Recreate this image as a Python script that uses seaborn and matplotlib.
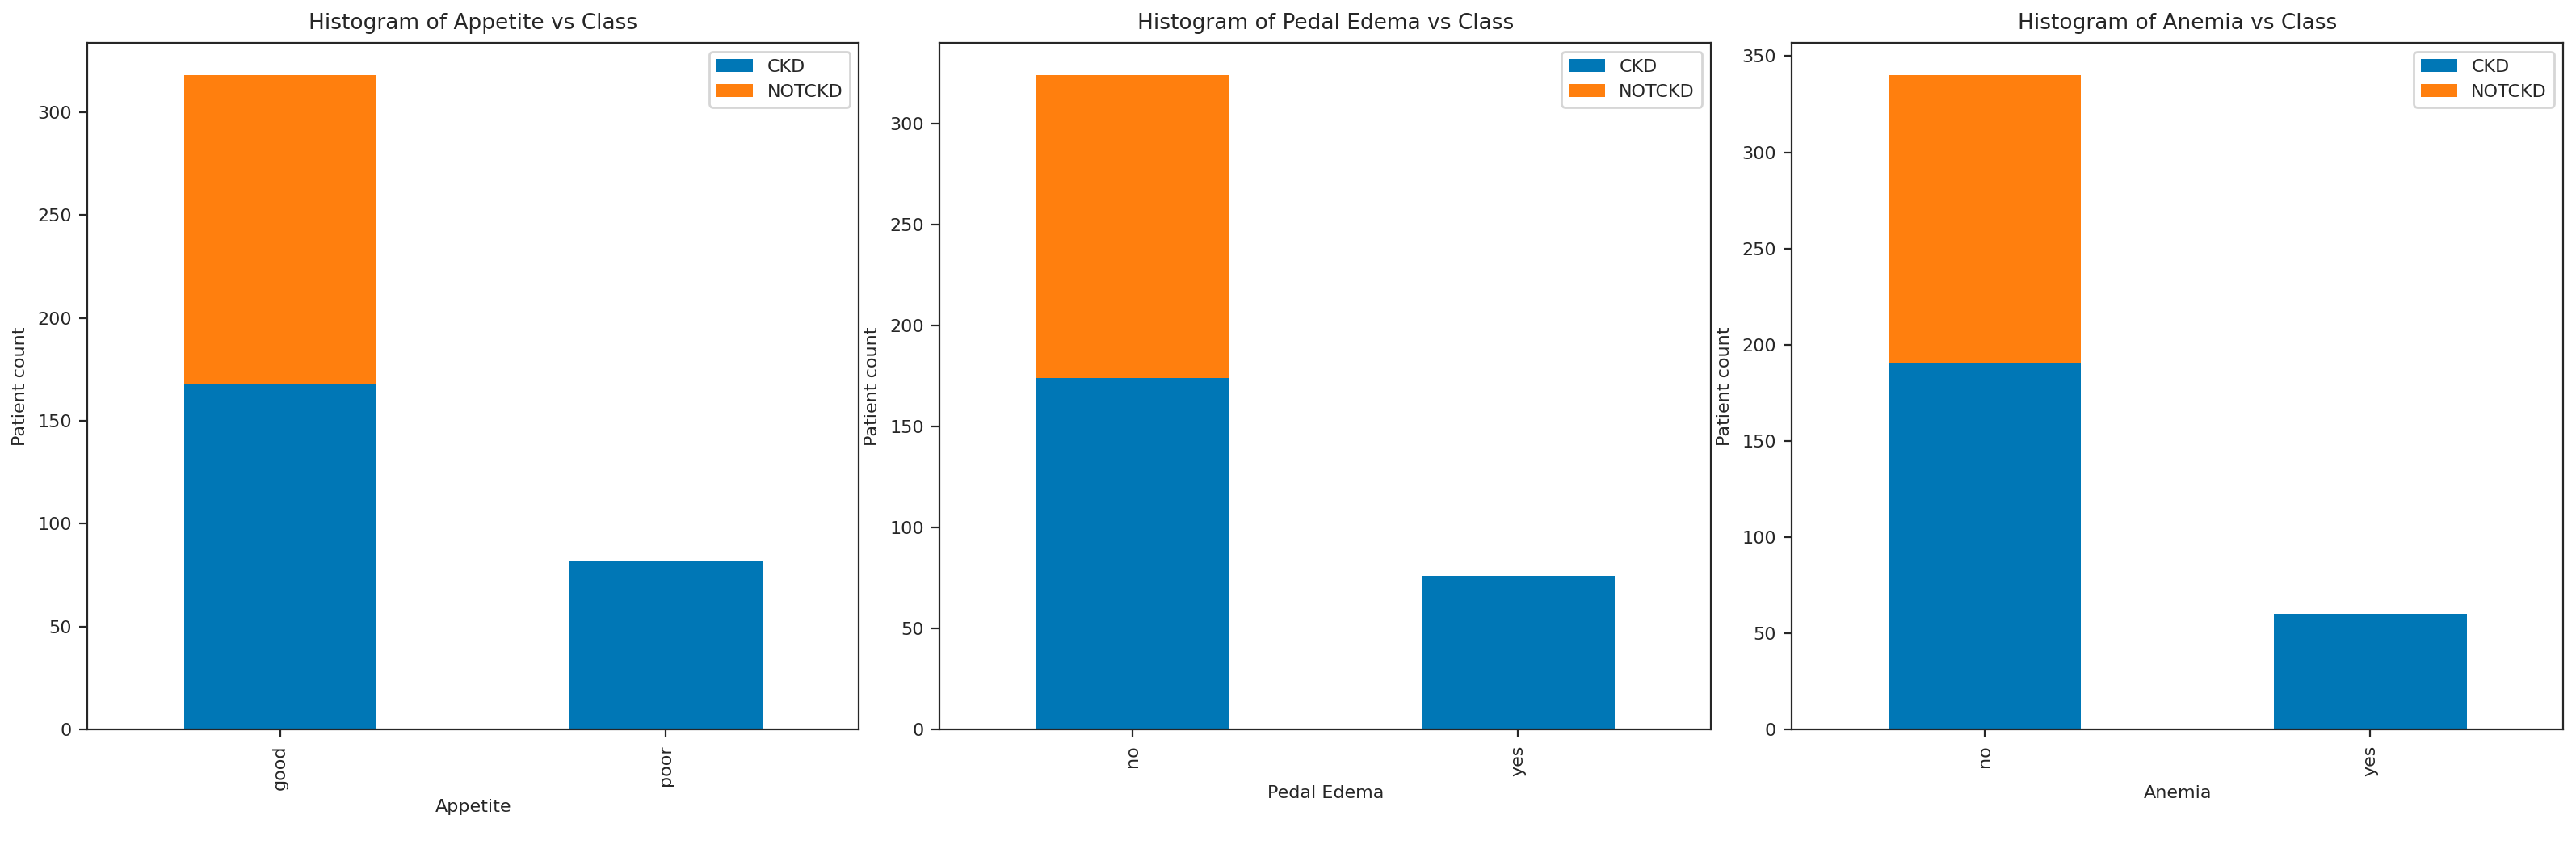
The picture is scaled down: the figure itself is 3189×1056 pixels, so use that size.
import matplotlib
matplotlib.use("Agg")
import matplotlib.pyplot as plt
import seaborn as sns
import pandas as pd
import numpy as np

appetite_cats = ["good", "poor"]
appetite_ckd = [168, 82]
appetite_notckd = [150, 0]

edema_cats = ["no", "yes"]
edema_ckd = [174, 76]
edema_notckd = [150, 0]

anemia_cats = ["no", "yes"]
anemia_ckd = [190, 60]
anemia_notckd = [150, 0]

panels = [
    ("Appetite", appetite_cats, appetite_ckd, appetite_notckd, [0, 50, 100, 150, 200, 250, 300]),
    ("Pedal Edema", edema_cats, edema_ckd, edema_notckd, [0, 50, 100, 150, 200, 250, 300]),
    ("Anemia", anemia_cats, anemia_ckd, anemia_notckd, [0, 50, 100, 150, 200, 250, 300, 350]),
]

sns.set_style("ticks")
plt.rcParams["font.family"] = ["DejaVu Sans"]
blue = "#0077b6"
orange = "#ff7f0e"

fig, axes = plt.subplots(1, 3, figsize=(15.945, 5.28), dpi=200)
for ax, (name, cats, ckd, notckd, ticks) in zip(axes, panels):
    df = pd.DataFrame({"cat": cats, "CKD": ckd, "NOTCKD": notckd})
    df["total"] = df["CKD"] + df["NOTCKD"]
    sns.barplot(data=df, x="cat", y="total", color=orange, width=0.5, ax=ax,
                label="NOTCKD", saturation=1, linewidth=0)
    sns.barplot(data=df, x="cat", y="CKD", color=blue, width=0.5, ax=ax,
                label="CKD", saturation=1, linewidth=0)
    ax.set_title(f"Histogram of {name} vs Class", fontsize=9.5)
    ax.set_xlabel(name, fontsize=8)
    ax.set_ylabel("Patient count", fontsize=8)
    ax.set_yticks(ticks)
    ax.tick_params(axis="x", rotation=90, labelsize=8)
    ax.tick_params(axis="y", labelsize=8)
    ax.set_xlim(-0.5, 1.5)
    h, l = ax.get_legend_handles_labels()
    ax.legend([h[1], h[0]], ["CKD", "NOTCKD"], loc="upper right", fontsize=8)
    for s in ax.spines.values():
        s.set_visible(True)

fig.subplots_adjust(left=0.034, right=0.995, top=0.95, bottom=0.145, wspace=0.105)
fig.savefig("out.png", dpi=200)
